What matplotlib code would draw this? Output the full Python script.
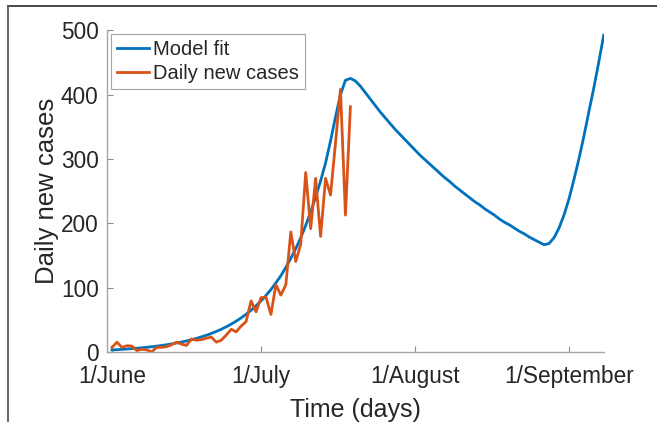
import numpy as np
import matplotlib
matplotlib.use("Agg")
import matplotlib.pyplot as plt
from matplotlib.lines import Line2D

# 天数：1 = 1/June
fit_days = list(range(1, 101))
fit_vals = [4.0, 4.4, 4.9, 5.4, 6.0, 6.6, 7.3, 8.1, 8.9, 9.8,
            10.9, 12.0, 13.3, 14.7, 16.2, 17.9, 19.8, 21.9, 24.2, 26.7,
            29.5, 32.6, 36.0, 39.8, 44.0, 48.6, 53.7, 59.3, 65.5, 72.4,
            80.0, 88.4, 97.6, 108, 119, 132, 146, 161, 178, 197,
            218, 241, 266, 294, 328, 365, 400, 422, 425, 421,
            413, 403, 393, 383, 373, 364, 355, 346, 338, 330,
            322, 314, 306, 299, 292, 285, 278, 271, 265, 258,
            252, 246, 240, 234, 229, 223, 218, 213, 207, 202,
            198, 193, 188, 184, 179, 175, 171, 167, 169, 178,
            193, 213, 238, 268, 300, 335, 373, 410, 450, 492]

case_days = list(range(1, 50))
case_vals = [8, 16, 8, 10.5, 10, 3, 5, 4, 1, 8,
             8, 9, 12, 16, 13, 11, 21, 19, 20, 22,
             24, 16, 19, 27, 36, 32, 41, 48, 80, 63,
             85, 86, 59, 105, 89, 105, 187, 141, 168, 279,
             192, 270, 180, 270, 244, 325, 408, 213, 381]

tick_days = [1, 31, 62, 93]
tick_labels = ["1/June", "1/July", "1/August", "1/September"]

plt.rcParams['font.family'] = ['Liberation Sans', 'DejaVu Sans']

fig = plt.figure(figsize=(6.57, 4.22), dpi=100)
ax = fig.add_axes([0.1629, 0.1647, 0.756, 0.7642])

ax.plot(fit_days, fit_vals, color='#0072BD', linewidth=2.0, label="Model fit")
ax.plot(case_days, case_vals, color='#D95319', linewidth=2.0, label="Daily new cases")

ax.set_xlim(0, 100)
ax.set_ylim(0, 500)
ax.set_xticks(tick_days)
ax.set_xticklabels(tick_labels)
ax.set_yticks([0, 100, 200, 300, 400, 500])

for side in ['top', 'right']:
    ax.spines[side].set_visible(False)
for side in ['left', 'bottom']:
    ax.spines[side].set_color('#a6a6a6')
    ax.spines[side].set_linewidth(1.0)

ax.tick_params(direction='in', length=4, width=0.8, color='#8c8c8c',
               labelsize=16.3, labelcolor='#262626')
ax.tick_params(axis='x', pad=9)
ax.tick_params(axis='y', pad=6)

ax.set_xlabel("Time (days)", fontsize=18, color='#262626', labelpad=7)
ax.set_ylabel("Daily new cases", fontsize=18.5, color='#262626', labelpad=1)

leg = ax.legend(loc='upper left', fontsize=14.5, frameon=True, fancybox=False,
                borderaxespad=0.2, handlelength=1.6, handletextpad=0.2,
                borderpad=0.3, labelspacing=0.25)
leg.get_frame().set_edgecolor('#8c8c8c')
leg.get_frame().set_linewidth(0.8)
for t in leg.get_texts():
    t.set_color('#262626')

# 外框（上边和左边）
fig.add_artist(Line2D([7.5 / 657, 1.0], [1 - 6 / 422, 1 - 6 / 422],
                      transform=fig.transFigure, color='#3a3a3a', linewidth=1.3))
fig.add_artist(Line2D([7.5 / 657, 7.5 / 657], [0.0, 1 - 6 / 422],
                      transform=fig.transFigure, color='#5a5a5a', linewidth=1.3))

fig.savefig("out.png", dpi=100)
